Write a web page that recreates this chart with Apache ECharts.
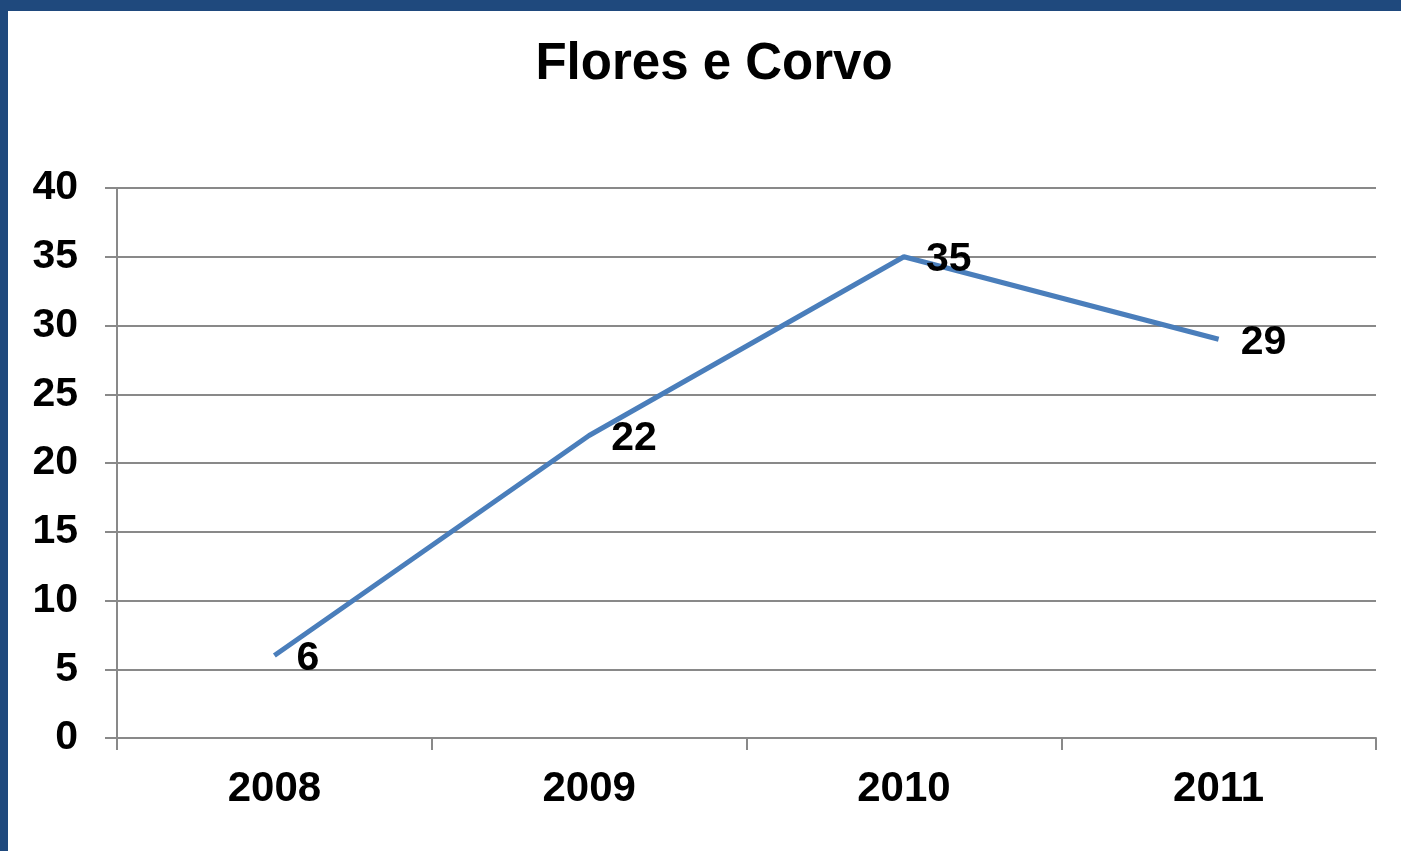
<!DOCTYPE html>
<html>
<head>
<meta charset="utf-8">
<script src="https://cdn.jsdelivr.net/npm/echarts@6/dist/echarts.min.js"></script>
<style>
  html, body { margin: 0; padding: 0; background: #fff; }
  #chart { width: 1401px; height: 851px; }
</style>
</head>
<body>
<div id="chart"></div>
<script>
const years = ['2008', '2009', '2010', '2011']
const values = [6, 22, 35, 29]
const yTicks = { min: 0, max: 40, interval: 5 }

const font = 'Liberation Sans, Arial, sans-serif'
const gridGray = '#898989'

const chart = echarts.init(document.getElementById('chart'))
chart.setOption({
  animation: false,
  backgroundColor: '#fff',
  title: {
    text: 'Flores e Corvo',
    left: 714,
    textAlign: 'center',
    top: 39,
    padding: 0,
    textStyle: { fontFamily: font, fontSize: 51, fontWeight: 'bold', color: '#000' }
  },
  // dark blue frame on top and left edges
  graphic: [
    { type: 'rect', shape: { x: 0, y: 0, width: 1401, height: 11 }, style: { fill: '#1f497d' } },
    { type: 'rect', shape: { x: 0, y: 0, width: 8, height: 851 }, style: { fill: '#1f497d' } }
  ],
  grid: { left: 117, right: 25, top: 188, bottom: 113 },
  xAxis: {
    type: 'category',
    data: years,
    boundaryGap: true,
    axisLine: { lineStyle: { color: gridGray, width: 2 } },
    axisTick: { show: true, length: 12, lineStyle: { color: gridGray, width: 2 } },
    axisLabel: { margin: 30, fontFamily: font, fontSize: 42, fontWeight: 'bold', color: '#000' }
  },
  yAxis: {
    type: 'value',
    min: yTicks.min,
    max: yTicks.max,
    interval: yTicks.interval,
    axisLine: { show: true, lineStyle: { color: gridGray, width: 2 } },
    axisTick: { show: true, length: 12, lineStyle: { color: gridGray, width: 2 } },
    splitLine: { lineStyle: { color: gridGray, width: 2 } },
    axisLabel: {
      margin: 39,
      padding: [4, 0, 0, 0],
      fontFamily: font,
      fontSize: 41,
      fontWeight: 'bold',
      color: '#000'
    }
  },
  series: [{
    type: 'line',
    data: values,
    symbol: 'circle',
    symbolSize: 0,
    showSymbol: true,
    lineStyle: { color: '#4a7ebb', width: 5 },
    itemStyle: { color: '#4a7ebb' },
    label: {
      show: true,
      position: 'right',
      distance: 22,
      offset: [0, 3],
      fontFamily: font,
      fontSize: 41,
      fontWeight: 'bold',
      color: '#000'
    }
  }]
})
</script>
</body>
</html>
